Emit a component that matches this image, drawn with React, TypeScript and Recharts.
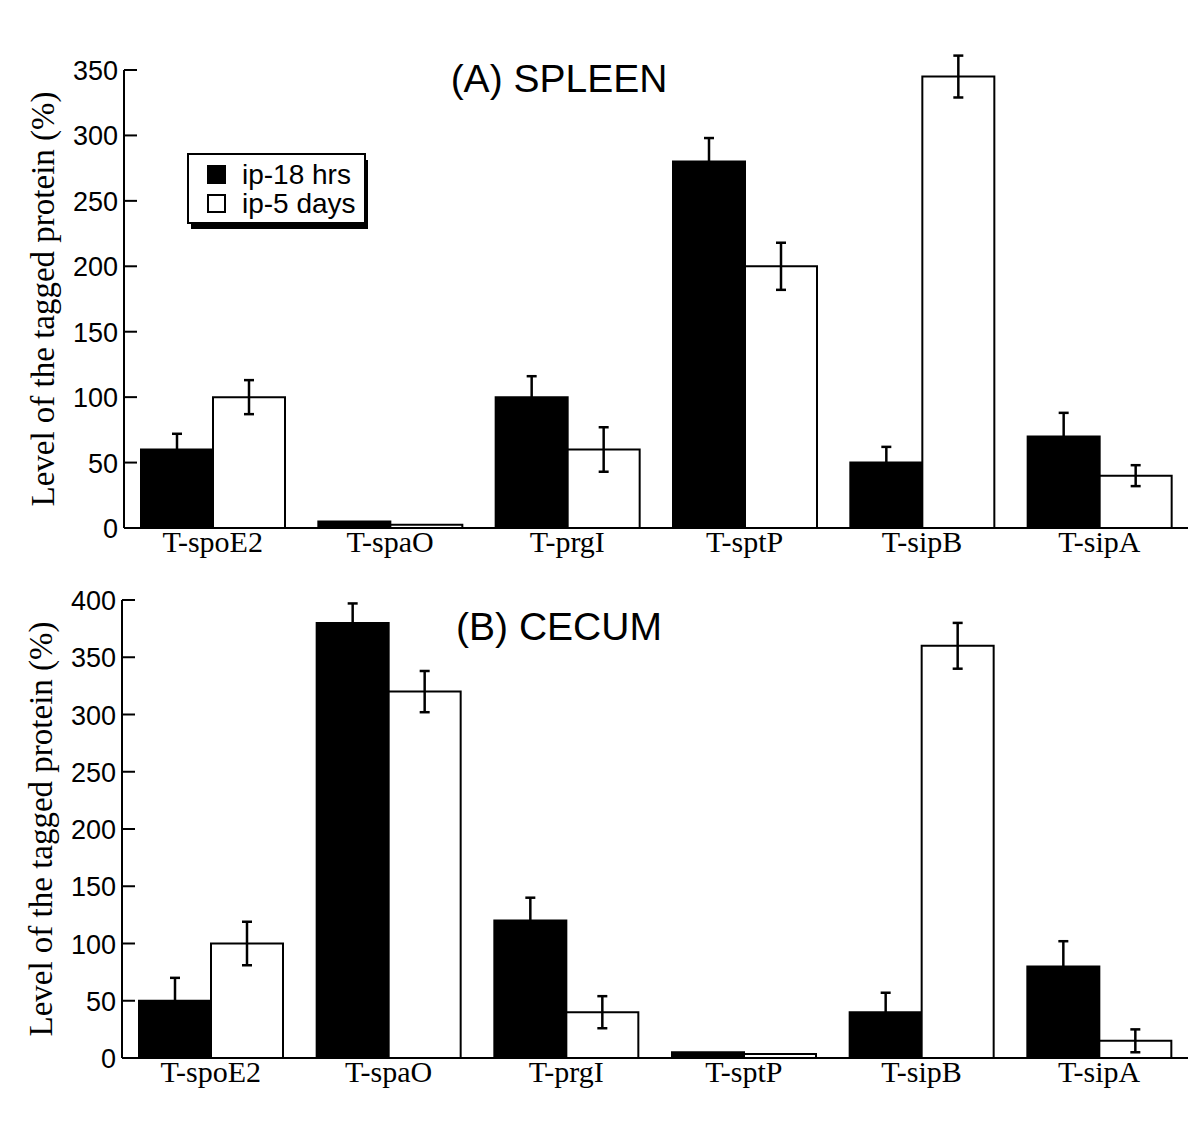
import { BarChart, Bar, XAxis, YAxis, ErrorBar } from 'recharts'

const categories = ['T-spoE2', 'T-spaO', 'T-prgI', 'T-sptP', 'T-sipB', 'T-sipA']

// (A) spleen
const spleen18h = [60, 5, 100, 280, 50, 70]
const spleen18hErr = [12, 0, 16, 18, 12, 18]
const spleen5d = [100, 2.5, 60, 200, 345, 40]
const spleen5dErr = [13, 0, 17, 18, 16, 8]
const spleenTicks = [0, 50, 100, 150, 200, 250, 300, 350]

// (B) cecum
const cecum18h = [50, 380, 120, 5, 40, 80]
const cecum18hErr = [20, 17, 20, 0, 17, 22]
const cecum5d = [100, 320, 40, 3.5, 360, 15]
const cecum5dErr = [19, 18, 14, 0, 20, 10]
const cecumTicks = [0, 50, 100, 150, 200, 250, 300, 350, 400]

const SERIES = [
  { key: 'h18', name: 'ip-18 hrs', fill: '#000' },
  { key: 'd5', name: 'ip-5 days', fill: '#fff' },
]

const SANS = '"Liberation Sans", Arial, Helvetica, sans-serif'
const SERIF = '"Liberation Serif", "Times New Roman", serif'

function buildRows(a: number[], aErr: number[], b: number[], bErr: number[]) {
  return categories.map((name, i) => ({
    name,
    h18: a[i],
    h18Err: aErr[i],
    d5: b[i],
    d5Err: bErr[i],
  }))
}

const spleenData = buildRows(spleen18h, spleen18hErr, spleen5d, spleen5dErr)
const cecumData = buildRows(cecum18h, cecum18hErr, cecum5d, cecum5dErr)

// ticks point into the plot, labels sit left of the axis
const YTick = (props: any) => {
  const { x, y, payload } = props
  return (
    <g>
      <line x1={x + 6} x2={x + 19} y1={y} y2={y} stroke="#000" strokeWidth={2} />
      <text x={x} y={y} dy={10} textAnchor="end" fontFamily={SANS} fontSize={27} fill="#000">
        {payload.value}
      </text>
    </g>
  )
}

// boxed legend with a drop shadow, top-left of panel A
const LegendBox = ({ x, y }: { x: number; y: number }) => (
  <g>
    <rect x={x + 3} y={y + 6} width={177} height={69} fill="#000" />
    <rect x={x} y={y} width={177} height={69} fill="#fff" stroke="#000" strokeWidth={2} />
    {SERIES.map((s, i) => (
      <g key={s.key}>
        <rect x={x + 20} y={y + 12 + i * 29} width={17} height={17} fill={s.fill} stroke="#000" strokeWidth={2} />
        <text x={x + 54} y={y + 30 + i * 29} fontFamily={SANS} fontSize={28} fill="#000">{s.name}</text>
      </g>
    ))}
  </g>
)

interface PanelProps {
  data: any[]
  max: number
  ticks: number[]
  title: string
  titleY: number
  axisLeft: number
  showLegend?: boolean
}

function Panel({ data, max, ticks, title, titleY, axisLeft, showLegend }: PanelProps) {
  return (
    <BarChart
      width={1200}
      height={580}
      data={data}
      margin={{ top: 70, right: 12, bottom: 12, left: axisLeft - 164 }}
      barCategoryGap={17}
      barGap={0}
    >
      <XAxis
        dataKey="name"
        tickLine={false}
        tickSize={0}
        tickMargin={3}
        height={40}
        axisLine={{ stroke: '#000', strokeWidth: 2 }}
        tick={{ fontFamily: SERIF, fontSize: 30, fill: '#000' }}
        interval={0}
      />
      <YAxis
        domain={[0, max]}
        allowDataOverflow
        ticks={ticks}
        width={164}
        tickLine={false}
        tickSize={0}
        tickMargin={6}
        axisLine={{ stroke: '#000', strokeWidth: 2 }}
        tick={<YTick />}
        label={{
          value: 'Level of the tagged protein (%)', angle: -90, position: 'center',
          style: { fontFamily: SERIF, fontSize: 33, fill: '#000' },
        }}
      />
      {SERIES.map(s => (
        <Bar key={s.key} dataKey={s.key} name={s.name} fill={s.fill} stroke="#000" strokeWidth={2} isAnimationActive={false}>
          <ErrorBar dataKey={`${s.key}Err`} width={5} stroke="#000" strokeWidth={2.5} />
        </Bar>
      ))}
      <text x={559} y={titleY} textAnchor="middle" fontFamily={SANS} fontSize={39} fill="#000">{title}</text>
      {showLegend && <LegendBox x={188} y={154} />}
    </BarChart>
  )
}

export default function App() {
  return (
    <div style={{ position: 'absolute', left: 0, top: 0, width: 1200, height: 1121, background: '#fff' }}>
      <div style={{ position: 'absolute', left: 0, top: 0 }}>
        <Panel data={spleenData} max={350} ticks={spleenTicks} title="(A) SPLEEN" titleY={92} axisLeft={124} showLegend />
      </div>
      <div style={{ position: 'absolute', left: 0, top: 530 }}>
        <Panel data={cecumData} max={400} ticks={cecumTicks} title="(B) CECUM" titleY={110} axisLeft={122} />
      </div>
    </div>
  )
}
